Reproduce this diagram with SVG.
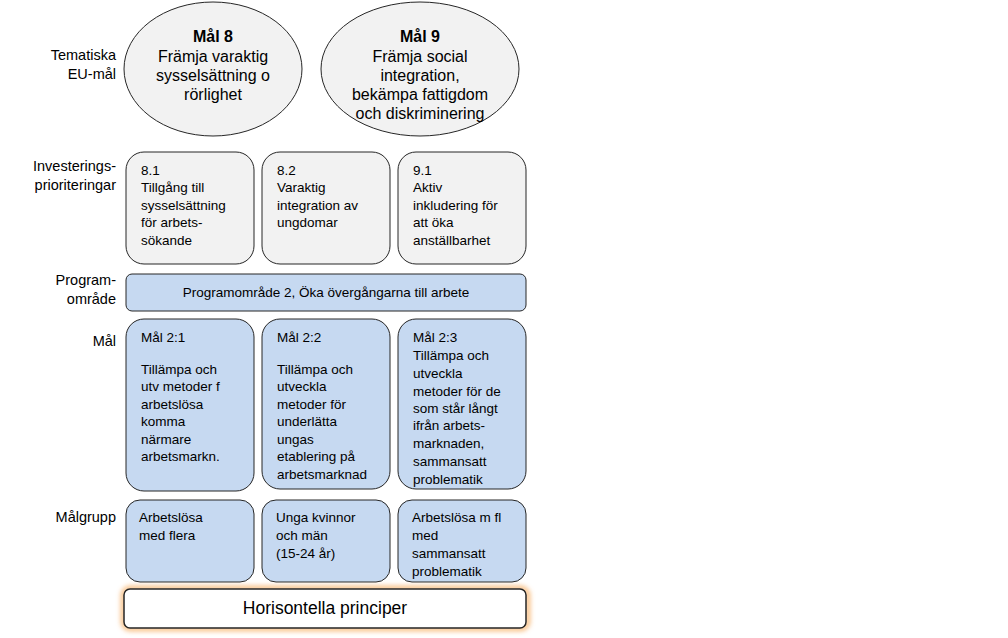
<svg xmlns="http://www.w3.org/2000/svg" width="1008" height="638" viewBox="0 0 1008 638">
<defs>
<style>
.lbl{font-family:"Liberation Sans",Arial,sans-serif;font-size:14.5px;fill:#000;text-anchor:end}
.ell{fill:#f2f2f2;stroke:#262626;stroke-width:1}
.et{font-family:"Liberation Sans",Arial,sans-serif;font-size:16px;fill:#000;text-anchor:middle}
.eb{font-weight:bold}
.gbox{fill:#f2f2f2;stroke:#262626;stroke-width:1}
.bbox{fill:#c6d9f1;stroke:#262626;stroke-width:1}
.bt{font-family:"Liberation Sans",Arial,sans-serif;font-size:13.5px;fill:#000}
.ct{text-anchor:middle}
</style>
<filter id="glow" x="-10%" y="-40%" width="120%" height="180%">
<feGaussianBlur stdDeviation="2.5"/>
</filter>
</defs>
<rect width="1008" height="638" fill="#fff"/>

<g id="labels">
<text class="lbl" x="116" y="60">Tematiska</text>
<text class="lbl" x="116" y="79">EU-mål</text>
<text class="lbl" x="116" y="171">Investerings-</text>
<text class="lbl" x="116" y="190">prioriteringar</text>
<text class="lbl" x="116" y="285">Program-</text>
<text class="lbl" x="116" y="304">område</text>
<text class="lbl" x="116" y="346">Mål</text>
<text class="lbl" x="116" y="522">Målgrupp</text>
</g>

<g id="mal8">
<ellipse class="ell" cx="213" cy="69" rx="89" ry="67"/>
<text class="et eb" x="213" y="42">Mål 8</text>
<text class="et" x="213" y="62">Främja varaktig</text>
<text class="et" x="213" y="81">sysselsättning o</text>
<text class="et" x="213" y="100">rörlighet</text>
</g>
<g id="mal9">
<ellipse class="ell" cx="420" cy="69" rx="99" ry="67"/>
<text class="et eb" x="420" y="42">Mål 9</text>
<text class="et" x="420" y="62">Främja social</text>
<text class="et" x="420" y="81">integration,</text>
<text class="et" x="420" y="100">bekämpa fattigdom</text>
<text class="et" x="420" y="119">och diskriminering</text>
</g>

<g id="ip81">
<rect class="gbox" x="126" y="152" width="128" height="112" rx="18"/>
<text class="bt" x="141" y="175">8.1</text>
<text class="bt" x="141" y="192">Tillgång till</text>
<text class="bt" x="141" y="210">sysselsättning</text>
<text class="bt" x="141" y="227">för arbets-</text>
<text class="bt" x="141" y="245">sökande</text>
</g>
<g id="ip82">
<rect class="gbox" x="262" y="152" width="128" height="112" rx="18"/>
<text class="bt" x="277" y="175">8.2</text>
<text class="bt" x="277" y="192">Varaktig</text>
<text class="bt" x="277" y="210">integration av</text>
<text class="bt" x="277" y="227">ungdomar</text>
</g>
<g id="ip91">
<rect class="gbox" x="398" y="152" width="128" height="112" rx="18"/>
<text class="bt" x="413" y="175">9.1</text>
<text class="bt" x="413" y="192">Aktiv</text>
<text class="bt" x="413" y="210">inkludering för</text>
<text class="bt" x="413" y="227">att öka</text>
<text class="bt" x="413" y="245">anställbarhet</text>
</g>

<g id="programomrade">
<rect class="bbox" x="126" y="274" width="400" height="37" rx="6"/>
<text class="bt ct" x="326" y="297">Programområde 2, Öka övergångarna till arbete</text>
</g>

<g id="mal21">
<rect class="bbox" x="126" y="319" width="128" height="172" rx="18"/>
<text class="bt" x="141" y="342">Mål 2:1</text>
<text class="bt" x="141" y="374">Tillämpa och</text>
<text class="bt" x="141" y="391">utv metoder f</text>
<text class="bt" x="141" y="409">arbetslösa</text>
<text class="bt" x="141" y="426">komma</text>
<text class="bt" x="141" y="444">närmare</text>
<text class="bt" x="141" y="461">arbetsmarkn.</text>
</g>
<g id="mal22">
<rect class="bbox" x="262" y="319" width="128" height="170" rx="18"/>
<text class="bt" x="277" y="342">Mål 2:2</text>
<text class="bt" x="277" y="374">Tillämpa och</text>
<text class="bt" x="277" y="391">utveckla</text>
<text class="bt" x="277" y="409">metoder för</text>
<text class="bt" x="277" y="426">underlätta</text>
<text class="bt" x="277" y="444">ungas</text>
<text class="bt" x="277" y="461">etablering på</text>
<text class="bt" x="277" y="479">arbetsmarknad</text>
</g>
<g id="mal23">
<rect class="bbox" x="398" y="319" width="128" height="170" rx="18"/>
<text class="bt" x="413" y="342">Mål 2:3</text>
<text class="bt" x="413" y="360">Tillämpa och</text>
<text class="bt" x="413" y="378">utveckla</text>
<text class="bt" x="413" y="396">metoder för de</text>
<text class="bt" x="413" y="413">som står långt</text>
<text class="bt" x="413" y="430">ifrån arbets-</text>
<text class="bt" x="413" y="448">marknaden,</text>
<text class="bt" x="413" y="466">sammansatt</text>
<text class="bt" x="413" y="484">problematik</text>
</g>

<g id="malgrupp1">
<rect class="bbox" x="126" y="500" width="128" height="82" rx="14"/>
<text class="bt" x="139" y="522">Arbetslösa</text>
<text class="bt" x="139" y="540">med flera</text>
</g>
<g id="malgrupp2">
<rect class="bbox" x="262" y="500" width="128" height="82" rx="14"/>
<text class="bt" x="276" y="522">Unga kvinnor</text>
<text class="bt" x="276" y="540">och män</text>
<text class="bt" x="276" y="558">(15-24 år)</text>
</g>
<g id="malgrupp3">
<rect class="bbox" x="398" y="500" width="128" height="82" rx="14"/>
<text class="bt" x="412" y="522">Arbetslösa m fl</text>
<text class="bt" x="412" y="540">med</text>
<text class="bt" x="412" y="558">sammansatt</text>
<text class="bt" x="412" y="576">problematik</text>
</g>

<g id="horisontella">
<rect x="123" y="588" width="405" height="41" rx="7" fill="none" stroke="#f7b26b" stroke-width="4" filter="url(#glow)"/>
<rect x="124" y="589" width="402" height="39" rx="6" fill="#fff" stroke="#262626" stroke-width="1.5"/>
<text x="325" y="614" font-family="Liberation Sans, Arial, sans-serif" font-size="17.5" text-anchor="middle" fill="#000">Horisontella principer</text>
</g>

<g id="connectors"></g>
</svg>
